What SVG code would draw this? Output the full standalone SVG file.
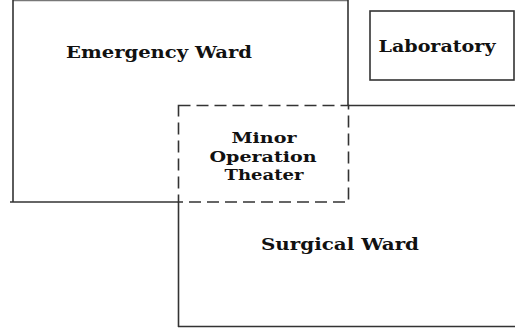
<svg xmlns="http://www.w3.org/2000/svg" width="515" height="332" viewBox="0 0 515 332">
<style>
.wall{fill:none;stroke:#333;stroke-width:1.6}
.thin{fill:none;stroke:#777;stroke-width:1.2}
.dash{fill:none;stroke:#333;stroke-width:1.6;stroke-dasharray:12 6}
.lbl{font-family:'DejaVu Serif','Liberation Serif',serif;font-weight:bold;font-size:16px;fill:#111;text-anchor:middle}
.sm{font-size:14.5px}
</style>
<rect width="515" height="332" fill="#fff"/>
<g id="emergency-ward">
<line class="thin" x1="13" y1="0.6" x2="348" y2="0.6"/>
<polyline class="wall" points="13,0 13,202"/>
<line class="wall" x1="10" y1="202" x2="178" y2="202"/>
<line class="wall" x1="348" y1="0" x2="348" y2="106"/>
<text class="lbl" x="159" y="58" textLength="186" lengthAdjust="spacingAndGlyphs">Emergency Ward</text>
</g>
<g id="laboratory">
<rect class="wall" x="370" y="11" width="144" height="69"/>
<text class="lbl" x="437" y="52" textLength="117" lengthAdjust="spacingAndGlyphs">Laboratory</text>
</g>
<g id="surgical-ward">
<line class="wall" x1="348" y1="105.5" x2="515" y2="105.5"/>
<line class="wall" x1="178.5" y1="202" x2="178.5" y2="327"/>
<line class="wall" x1="178" y1="326.5" x2="515" y2="326.5"/>
<text class="lbl" x="340" y="250" textLength="158" lengthAdjust="spacingAndGlyphs">Surgical Ward</text>
</g>
<g id="minor-operation-theater">
<rect class="dash" x="178.5" y="105.5" width="170" height="96.5"/>
<text class="lbl sm" x="264" y="143" textLength="65" lengthAdjust="spacingAndGlyphs">Minor</text>
<text class="lbl sm" x="263" y="161.5" textLength="107" lengthAdjust="spacingAndGlyphs">Operation</text>
<text class="lbl sm" x="264" y="180" textLength="79" lengthAdjust="spacingAndGlyphs">Theater</text>
</g>
<g id="connectors"></g>
</svg>
